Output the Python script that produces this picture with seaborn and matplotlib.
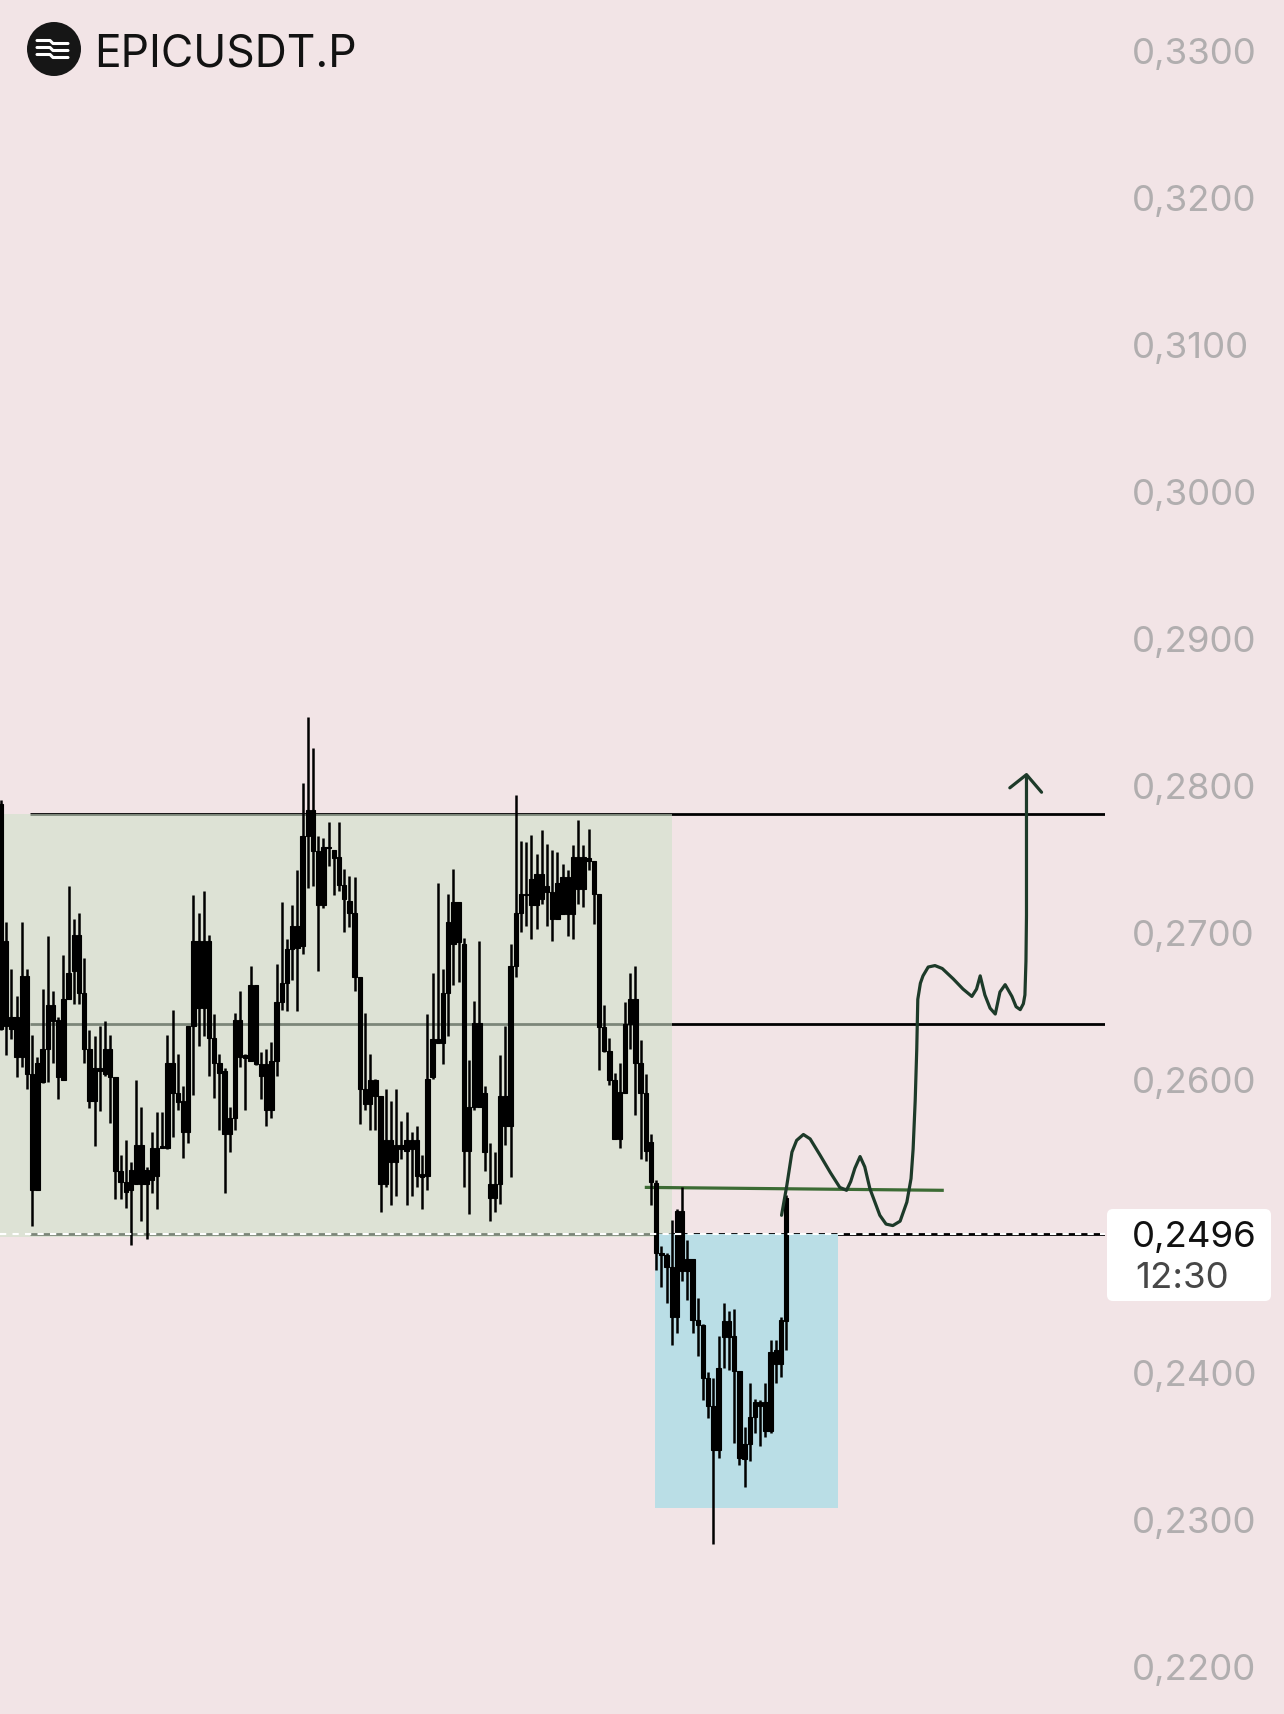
import matplotlib
matplotlib.use("Agg")
import matplotlib.pyplot as plt
from matplotlib.patches import Rectangle, FancyBboxPatch, Circle
import seaborn as sns
import pandas as pd
import numpy as np

# candle data
opens = [0.2787, 0.2636, 0.2642, 0.2642, 0.2615, 0.2670, 0.2603, 0.2524, 0.2620, 0.2620,
         0.2650, 0.2640, 0.2599, 0.2654, 0.2673, 0.2698, 0.2658, 0.2620, 0.2585, 0.2607,
         0.2603, 0.2620, 0.2601, 0.2537, 0.2530, 0.2524, 0.2528, 0.2555, 0.2528, 0.2531,
         0.2553, 0.2553, 0.2553, 0.2611, 0.2590, 0.2585, 0.2564, 0.2636, 0.2694, 0.2648,
         0.2694, 0.2628, 0.2611, 0.2605, 0.2562, 0.2573, 0.2640, 0.2614, 0.2612, 0.2664,
         0.2610, 0.2610, 0.2579, 0.2612, 0.2652, 0.2665, 0.2688, 0.2704, 0.2690, 0.2765,
         0.2783, 0.2755, 0.2718, 0.2758, 0.2756, 0.2751, 0.2732, 0.2721, 0.2713, 0.2669,
         0.2593, 0.2583, 0.2599, 0.2588, 0.2528, 0.2558, 0.2543, 0.2555, 0.2551, 0.2558,
         0.2558, 0.2533, 0.2534, 0.2601, 0.2627, 0.2624, 0.2658, 0.2720, 0.2693, 0.2692,
         0.2551, 0.2581, 0.2638, 0.2590, 0.2528, 0.2519, 0.2528, 0.2588, 0.2568, 0.2677,
         0.2713, 0.2725, 0.2718, 0.2739, 0.2722, 0.2731, 0.2727, 0.2709, 0.2737, 0.2712,
         0.2751, 0.2729, 0.2751, 0.2748, 0.2748, 0.2726, 0.2635, 0.2619, 0.2599, 0.2559,
         0.2590, 0.2637, 0.2654, 0.2611, 0.2590, 0.2557, 0.2529, 0.2481, 0.2480, 0.2472,
         0.2438, 0.2510, 0.2469, 0.2477, 0.2436, 0.2432, 0.2396, 0.2377, 0.2347, 0.2424,
         0.2435, 0.2425, 0.2401, 0.2341, 0.2351, 0.2370, 0.2377, 0.2380, 0.2360, 0.2406,
         0.2406, 0.2435]
highs = [0.2790, 0.2707, 0.2675, 0.2656, 0.2707, 0.2675, 0.2630, 0.2615, 0.2661, 0.2697,
         0.2660, 0.2642, 0.2684, 0.2731, 0.2709, 0.2713, 0.2682, 0.2633, 0.2629, 0.2636,
         0.2639, 0.2630, 0.2601, 0.2548, 0.2558, 0.2543, 0.2599, 0.2581, 0.2540, 0.2564,
         0.2577, 0.2577, 0.2630, 0.2647, 0.2617, 0.2595, 0.2636, 0.2725, 0.2713, 0.2728,
         0.2698, 0.2644, 0.2617, 0.2607, 0.2581, 0.2645, 0.2660, 0.2617, 0.2677, 0.2664,
         0.2618, 0.2620, 0.2625, 0.2678, 0.2720, 0.2695, 0.2718, 0.2742, 0.2801, 0.2846,
         0.2825, 0.2765, 0.2764, 0.2775, 0.2756, 0.2775, 0.2743, 0.2738, 0.2737, 0.2669,
         0.2645, 0.2617, 0.2600, 0.2588, 0.2593, 0.2585, 0.2593, 0.2571, 0.2577, 0.2564,
         0.2568, 0.2548, 0.2644, 0.2672, 0.2733, 0.2675, 0.2726, 0.2743, 0.2720, 0.2696,
         0.2613, 0.2653, 0.2694, 0.2595, 0.2556, 0.2550, 0.2616, 0.2636, 0.2692, 0.2793,
         0.2762, 0.2761, 0.2766, 0.2753, 0.2769, 0.2760, 0.2756, 0.2754, 0.2746, 0.2742,
         0.2759, 0.2776, 0.2759, 0.2770, 0.2748, 0.2726, 0.2650, 0.2628, 0.2604, 0.2611,
         0.2652, 0.2672, 0.2677, 0.2626, 0.2603, 0.2562, 0.2531, 0.2486, 0.2481, 0.2504,
         0.2511, 0.2526, 0.2490, 0.2477, 0.2451, 0.2433, 0.2400, 0.2396, 0.2425, 0.2447,
         0.2442, 0.2443, 0.2401, 0.2363, 0.2393, 0.2382, 0.2381, 0.2393, 0.2422, 0.2422,
         0.2438, 0.2521]
lows = [0.2633, 0.2616, 0.2627, 0.2601, 0.2608, 0.2593, 0.2500, 0.2524, 0.2597, 0.2598,
        0.2611, 0.2586, 0.2599, 0.2654, 0.2651, 0.2651, 0.2611, 0.2580, 0.2554, 0.2578,
        0.2602, 0.2570, 0.2518, 0.2518, 0.2512, 0.2487, 0.2528, 0.2503, 0.2491, 0.2522,
        0.2511, 0.2553, 0.2552, 0.2560, 0.2579, 0.2546, 0.2556, 0.2589, 0.2622, 0.2629,
        0.2602, 0.2587, 0.2565, 0.2522, 0.2550, 0.2565, 0.2608, 0.2579, 0.2612, 0.2609,
        0.2586, 0.2568, 0.2573, 0.2602, 0.2647, 0.2646, 0.2667, 0.2646, 0.2685, 0.2730,
        0.2731, 0.2673, 0.2716, 0.2745, 0.2725, 0.2728, 0.2700, 0.2703, 0.2660, 0.2569,
        0.2579, 0.2565, 0.2565, 0.2509, 0.2526, 0.2514, 0.2520, 0.2545, 0.2514, 0.2520,
        0.2526, 0.2511, 0.2524, 0.2600, 0.2624, 0.2610, 0.2629, 0.2664, 0.2666, 0.2526,
        0.2508, 0.2579, 0.2581, 0.2537, 0.2503, 0.2509, 0.2515, 0.2555, 0.2533, 0.2669,
        0.2700, 0.2704, 0.2695, 0.2702, 0.2719, 0.2704, 0.2694, 0.2709, 0.2712, 0.2697,
        0.2695, 0.2719, 0.2717, 0.2742, 0.2705, 0.2606, 0.2618, 0.2596, 0.2559, 0.2553,
        0.2590, 0.2620, 0.2575, 0.2545, 0.2544, 0.2514, 0.2470, 0.2458, 0.2447, 0.2419,
        0.2427, 0.2462, 0.2449, 0.2427, 0.2411, 0.2381, 0.2369, 0.2283, 0.2342, 0.2403,
        0.2402, 0.2352, 0.2337, 0.2322, 0.2340, 0.2359, 0.2350, 0.2356, 0.2359, 0.2393,
        0.2397, 0.2415]
closes = [0.2634, 0.2694, 0.2634, 0.2615, 0.2670, 0.2603, 0.2524, 0.2611, 0.2598, 0.2650,
          0.2639, 0.2601, 0.2654, 0.2672, 0.2698, 0.2658, 0.2620, 0.2585, 0.2607, 0.2605,
          0.2620, 0.2601, 0.2537, 0.2530, 0.2523, 0.2538, 0.2555, 0.2528, 0.2538, 0.2553,
          0.2534, 0.2554, 0.2611, 0.2590, 0.2584, 0.2564, 0.2636, 0.2694, 0.2648, 0.2694,
          0.2628, 0.2611, 0.2604, 0.2562, 0.2573, 0.2640, 0.2615, 0.2616, 0.2664, 0.2610,
          0.2602, 0.2579, 0.2612, 0.2652, 0.2665, 0.2688, 0.2704, 0.2689, 0.2765, 0.2783,
          0.2755, 0.2718, 0.2758, 0.2757, 0.2750, 0.2732, 0.2722, 0.2713, 0.2669, 0.2593,
          0.2583, 0.2599, 0.2588, 0.2528, 0.2558, 0.2543, 0.2555, 0.2552, 0.2558, 0.2552,
          0.2534, 0.2535, 0.2600, 0.2627, 0.2624, 0.2658, 0.2707, 0.2692, 0.2720, 0.2551,
          0.2581, 0.2638, 0.2581, 0.2550, 0.2519, 0.2528, 0.2588, 0.2568, 0.2677, 0.2713,
          0.2726, 0.2726, 0.2736, 0.2718, 0.2739, 0.2727, 0.2709, 0.2733, 0.2712, 0.2737,
          0.2712, 0.2751, 0.2729, 0.2750, 0.2726, 0.2635, 0.2619, 0.2599, 0.2559, 0.2591,
          0.2637, 0.2654, 0.2611, 0.2590, 0.2551, 0.2530, 0.2481, 0.2480, 0.2472, 0.2438,
          0.2510, 0.2469, 0.2477, 0.2436, 0.2432, 0.2396, 0.2377, 0.2347, 0.2403, 0.2435,
          0.2424, 0.2401, 0.2342, 0.2351, 0.2370, 0.2380, 0.2380, 0.2360, 0.2414, 0.2415,
          0.2436, 0.2519]

price_ticks = [0.22, 0.23, 0.24, 0.25, 0.26, 0.27, 0.28, 0.29, 0.30, 0.31, 0.32, 0.33]
range_top = 0.2780
range_mid = 0.2637
range_bottom = 0.2492
zone_bottom = 0.2308
last_price = 0.2494
last_label = "0,2496"
last_time = "12:30"
retest_level = [0.2526, 0.2524]

# hand drawn projection (x in candle slots, y in price)
path_x = [150.1, 151.1, 152.1, 153.0, 154.3, 155.6, 157.5, 159.5, 161.3, 162.6, 163.4, 164.2,
          165.2, 166.1, 167.1, 169.0, 170.2, 171.5, 172.9, 174.2, 175.0, 175.4, 175.8, 176.1,
          176.3, 176.8, 177.3, 178.3, 179.6, 181.0, 183.1, 185.0, 186.7, 187.6, 188.3, 189.2,
          190.2, 191.2, 192.1, 193.1, 194.4, 195.2, 196.0, 196.6, 196.9, 197.1, 197.2, 197.2]
path_p = [0.2507, 0.2527, 0.2550, 0.2558, 0.2562, 0.2559, 0.2548, 0.2536, 0.2526, 0.2524, 0.2530, 0.2539,
          0.2547, 0.2540, 0.2525, 0.2507, 0.2501, 0.2500, 0.2503, 0.2516, 0.2532, 0.2552, 0.2585, 0.2620,
          0.2654, 0.2665, 0.2670, 0.2676, 0.2677, 0.2675, 0.2668, 0.2661, 0.2656, 0.2661, 0.2670, 0.2657,
          0.2648, 0.2644, 0.2659, 0.2664, 0.2656, 0.2649, 0.2647, 0.2651, 0.2657, 0.2680, 0.2711, 0.2806]
arrow_x = [194.0, 197.2, 200.1]
arrow_p = [0.2798, 0.2807, 0.2795]

bg = "#f2e4e6"
sns.set_theme(style="white", rc={"axes.facecolor": bg, "figure.facecolor": bg})
plt.rcParams["font.family"] = ["Inter", "DejaVu Sans"]

df = pd.DataFrame({"open": opens, "high": highs, "low": lows, "close": closes})
df["slot"] = np.arange(len(df))
df["body_lo"] = df[["open", "close"]].min(axis=1)
df["body_hi"] = df[["open", "close"]].max(axis=1)

fig = plt.figure(figsize=(12.84, 17.15), dpi=100)
ax = fig.add_axes([0, 0, 1105 / 1284, 1])
x_left, x_right = -0.19, 212.3
ax.set_xlim(x_left, x_right)
ax.set_ylim(0.21675, 0.3335)

# levels (black, greyed where the range box covers them)
line_start = 5.6
for lvl in [range_top, range_mid, last_price]:
    ax.hlines(lvl, line_start, x_right, color="black", lw=2.0, zorder=1)

# range box and demand zone
ax.add_patch(Rectangle((x_left, range_bottom), 129.0 - x_left, range_top - range_bottom,
                       facecolor="#d0e1cb", alpha=0.6, lw=0, zorder=2))
ax.add_patch(Rectangle((125.8, zone_bottom), 161.0 - 125.8, last_price - zone_bottom,
                       facecolor="#badee6", lw=0, zorder=2))

# retest line
ax.plot([123.8, 181.3], retest_level, color="#3c6b34", lw=2.3, zorder=3, solid_capstyle="butt")

# candles
ax.vlines(df["slot"], df["low"], df["high"], color="black", lw=1.8, zorder=4)
ax.bar(df["slot"], df["body_hi"] - df["body_lo"], bottom=df["body_lo"], width=0.85,
       color="black", edgecolor="black", lw=0.8, zorder=4)

# current price dashed line
ax.hlines(last_price, x_left, x_right, color="white", lw=1.5, linestyles=(0, (3, 3)), zorder=5)

# projection drawing
sns.lineplot(x=path_x, y=path_p, sort=False, estimator=None, color="#1d3a29", lw=2.3,
             ax=ax, zorder=6)
sns.lineplot(x=arrow_x, y=arrow_p, sort=False, estimator=None, color="#1d3a29", lw=2.3,
             ax=ax, zorder=6)

# right price scale (0,2500 sits under the last price label)
ax.yaxis.tick_right()
ax.set_yticks(price_ticks)
ax.set_yticklabels(["" if v == 0.25 else f"{v:.4f}".replace(".", ",") for v in price_ticks])
ax.tick_params(axis="y", length=0, pad=19.4, labelsize=26.4, labelcolor="#b1aeaf")
ax.set_xticks([])
for s in ax.spines.values():
    s.set_visible(False)

# last price label
fig.patches.append(FancyBboxPatch((11.07, 4.13), 1.64, 0.92,
                                  boxstyle="round,pad=0,rounding_size=0.06",
                                  facecolor="white", edgecolor="none",
                                  transform=fig.dpi_scale_trans, zorder=5))
fig.text(11.32, 17.15 - 12.47, last_label, fontsize=26.4, color="#111111",
         transform=fig.dpi_scale_trans, va="baseline", zorder=6)
fig.text(11.35, 17.15 - 12.88, last_time, fontsize=26.4, color="#474747",
         transform=fig.dpi_scale_trans, va="baseline", zorder=6)

# symbol header
fig.patches.append(Circle((0.54, 17.15 - 0.50), 0.27, facecolor="#161616",
                          edgecolor="none", transform=fig.dpi_scale_trans, zorder=5))
for dy in [-0.07, 0.0, 0.07]:
    yy = 17.15 - 0.50 - dy
    fig.lines.append(plt.Line2D([0.37, 0.50, 0.53, 0.68], [yy + 0.015, yy + 0.015, yy - 0.015, yy - 0.015],
                                color="white", lw=2.2, transform=fig.dpi_scale_trans, zorder=6))
fig.text(0.94, 17.15 - 0.665, "EPICUSDT.P", fontsize=32, color="#121212",
         transform=fig.dpi_scale_trans, va="baseline")

fig.savefig("out.png", dpi=100, facecolor=bg)
